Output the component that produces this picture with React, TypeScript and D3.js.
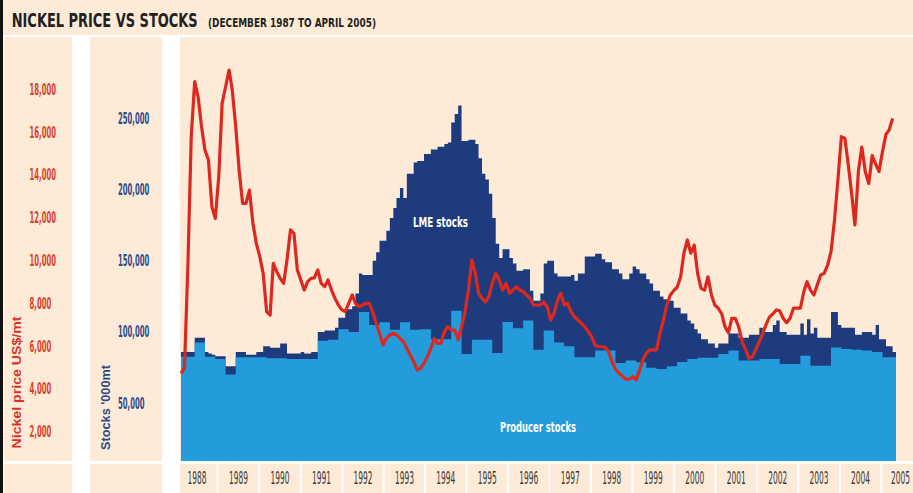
import React from "react";
import * as d3 from "d3";

const W = 913;
const H = 493;

// LME cash nickel price, US$/t, monthly from December 1987
const priceUSD = [
  4730, 4980, 9900, 15790, 18360, 17650, 16250, 15160, 14700, 12510, 11970, 13920, 17350,
  18120, 18900, 17970, 16250, 14230, 12670, 12670, 13290, 11740, 10800, 10180, 9400,
  7610, 7450, 9870, 9480, 9170, 8930, 10020, 11430, 11270, 9560, 9090, 8620,
  9010, 9170, 9190, 9560, 8930, 8780, 9090, 8620, 8230, 7920, 7690, 7610,
  8000, 8390, 8000, 7840, 7920, 8000, 8000, 7610, 7070, 6600, 6050, 6360,
  6520, 6600, 6520, 6360, 6210, 5900, 5580, 5270, 4880, 4960, 5200, 5500,
  5900, 6360, 6130, 6130, 6670, 6910, 6750, 6750, 6290, 6910, 7610, 8620,
  10020, 9400, 8470, 8230, 8070, 8310, 8930, 9400, 9090, 8620, 8930, 8470,
  8620, 8780, 8620, 8540, 8390, 8230, 7920, 7920, 7920, 8070, 7840, 7220,
  7530, 8150, 8470, 7920, 8000, 7610, 7370, 7220, 7070, 6910, 6670, 6440,
  6050, 5970, 5970, 5950, 5740, 5270, 4920, 4730, 4600, 4450, 4450, 4570,
  4420, 4880, 5350, 5660, 5820, 5820, 5820, 6600, 7220, 7920, 8390, 8590,
  8750, 9240, 10340, 10960, 10340, 10720, 9400, 8700, 8620, 9240, 8390, 7920,
  7770, 7500, 6910, 6630, 7300, 7300, 6910, 6210, 5850, 5430, 5500, 5850,
  6210, 6600, 6990, 7350, 7500, 7690, 7650, 7300, 7090, 7300, 7770, 7770,
  7770, 8540, 9010, 8620, 8390, 8860, 9320, 9400, 9790, 10410, 11890, 13760,
  15790, 15710, 14540, 13140, 11660, 14200, 15300, 14150, 13600, 14900, 14500, 14150,
  15100, 15900, 16100, 16640,
];

// LME + producer stocks, '000 t, monthly from December 1987
const totalStocksK = [
  86, 86, 86, 86, 96, 96, 96, 86, 85, 84, 83, 83, 83,
  76, 76, 76, 86, 86, 86, 84, 84, 84, 86, 86, 90,
  90, 89, 89, 89, 92, 92, 85, 85, 85, 85, 86, 85,
  85, 86, 86, 100, 100, 101, 101, 101, 103, 110, 110, 116,
  116, 118, 127, 141, 140, 140, 140, 150, 156, 164, 164, 171,
  180, 187, 194, 201, 194, 211, 211, 219, 220, 220, 225, 225,
  228, 228, 230, 230, 232, 233, 247, 253, 259, 234, 234, 235,
  235, 232, 222, 211, 207, 197, 180, 162, 152, 158, 158, 152,
  148, 143, 143, 144, 144, 129, 122, 122, 127, 148, 150, 150,
  141, 139, 139, 139, 139, 140, 136, 141, 141, 153, 153, 153,
  155, 155, 151, 149, 149, 144, 144, 141, 137, 137, 141, 146,
  144, 141, 141, 137, 134, 129, 129, 125, 123, 123, 122, 117,
  117, 113, 113, 108, 106, 102, 99, 95, 95, 92, 92, 89,
  92, 92, 92, 99, 99, 99, 96, 96, 96, 98, 98, 98,
  103, 100, 100, 100, 105, 108, 100, 100, 98, 98, 98, 98,
  106, 98, 109, 99, 103, 96, 96, 96, 96, 114, 114, 105,
  103, 103, 103, 103, 98, 98, 100, 100, 100, 98, 105, 95,
  95, 90, 90, 86,
];

// producer stocks, '000 t, quarterly from Q4 1987
const producerStocksK = [
  82.7,
  82.7, 92.7, 82.7, 81.1,
  70.1, 82.2, 82.2, 82.2,
  81.5, 81.5, 81, 81,
  81, 93.9, 94.5, 102,
  100, 114, 105, 106.8,
  101.6, 106.8, 101.6, 102,
  95, 95, 115, 84.6,
  94.6, 94.6, 85.3, 107,
  102.6, 108, 87.6, 101,
  92.7, 90, 82.2, 82.2,
  87, 87, 78.3, 80,
  78.7, 75, 74, 76,
  79, 81, 82, 82,
  84.6, 87, 80, 80,
  81, 81, 77.6, 77.6,
  83.4, 76.4, 76.4, 89.2,
  88, 87.5, 87, 86,
  82.2, 82.2,
];

const priceTicks = [2000, 4000, 6000, 8000, 10000, 12000, 14000, 16000, 18000];
const stockTicks = [50000, 100000, 150000, 200000, 250000];
const years = [
  "1988", "1989", "1990", "1991", "1992", "1993", "1994", "1995", "1996",
  "1997", "1998", "1999", "2000", "2001", "2002", "2003", "2004", "2005",
];

const PEACH = "#fdebd8";
const NAVY = "#1e3c7d";
const BLUE = "#249cdc";
const RED = "#dc281e";
const NARROW = "'Liberation Sans Narrow', 'DejaVu Sans Condensed', 'Roboto Condensed', sans-serif";
const WIDE = "'Liberation Sans', Arial, sans-serif";

// rough width of a condensed number label
const labelWidth = (s: string) => s.replace(/,/g, "").length * 4.7 + (s.includes(",") ? 3 : 0);

export default function App() {
  const start = new Date(1987, 11, 1);
  const end = new Date(2005, 4, 1);
  const chartTop = 37;
  const chartBottom = 461;

  const x = d3.scaleTime().domain([start, end]).range([181, 896]);
  const yPrice = d3.scaleLinear().domain([0, 20000]).range([474.5, 46.5]);
  const yStock = d3.scaleLinear().domain([0, 300000]).range([474.5, 47]);

  const totalPts = totalStocksK.map((v, i) => ({ date: d3.timeMonth.offset(start, i), v: v * 1000 }));
  totalPts.push({ date: end, v: totalPts[totalPts.length - 1].v });

  const qStart = new Date(1987, 9, 1);
  const prodPts = producerStocksK.map((v, i) => ({ date: d3.timeMonth.offset(qStart, 3 * i), v: v * 1000 }));
  prodPts.push({ date: d3.timeMonth.offset(qStart, 3 * producerStocksK.length), v: prodPts[prodPts.length - 1].v });

  const stockArea = d3
    .area<{ date: Date; v: number }>()
    .x((d) => x(d.date))
    .y0(chartBottom)
    .y1((d) => yStock(d.v))
    .curve(d3.curveStepAfter);

  const priceLine = d3
    .line<number>()
    .x((_, i) => x(d3.timeMonth.offset(start, i)))
    .y((d) => yPrice(d));

  const yearBand = d3.scaleBand<string>().domain(years).range([176.3, 922.8]);
  const fmt = d3.format(",");

  return (
    <svg
      width={W}
      height={H}
      viewBox={`0 0 ${W} ${H}`}
      style={{ position: "fixed", left: 0, top: 0, background: "#fff" }}
    >
      <defs>
        <clipPath id="plot">
          <rect x={181} y={chartTop} width={896 - 181} height={chartBottom - chartTop} />
        </clipPath>
      </defs>

      {/* panels */}
      <rect x={0} y={0} width={W} height={35} fill={PEACH} />
      <rect x={4} y={chartTop} width={68} height={H - chartTop} fill={PEACH} />
      <rect x={90} y={chartTop} width={72} height={H - chartTop} fill={PEACH} />
      <rect x={180} y={chartTop} width={W - 180} height={chartBottom - chartTop} fill={PEACH} />
      <rect x={0} y={chartBottom} width={W} height={3} fill="#fff" />
      {years.map((yr) => {
        const x0 = Math.max(180, yearBand(yr)! + 1);
        const x1 = yearBand(yr)! + yearBand.bandwidth() - 1;
        return <rect key={yr} x={x0} y={chartBottom + 3} width={x1 - x0} height={H - chartBottom - 3} fill={PEACH} />;
      })}
      <rect x={0} y={0} width={3} height={H} fill="#111" />

      {/* title */}
      <g transform="translate(11.7,27) scale(0.73,1)">
        <text fontFamily={NARROW} fontWeight="bold" fontSize={19.5} fill="#231f20" textLength={186 / 0.73} lengthAdjust="spacingAndGlyphs">
          NICKEL PRICE VS STOCKS
        </text>
      </g>
      <g transform="translate(208,26.7) scale(0.8,1)">
        <text fontFamily={NARROW} fontWeight="bold" fontSize={11.5} fill="#231f20" textLength={168 / 0.8} lengthAdjust="spacingAndGlyphs">
          (DECEMBER 1987 TO APRIL 2005)
        </text>
      </g>

      {/* stocks */}
      <g clipPath="url(#plot)">
        <path d={stockArea(totalPts)!} fill={NAVY} />
        <path d={stockArea(prodPts)!} fill={BLUE} />
      </g>
      <text x={440.5} y={226.7} textAnchor="middle" fontFamily={NARROW} fontWeight="bold" fontSize={14} fill="#fff" textLength={55} lengthAdjust="spacingAndGlyphs">
        LME stocks
      </text>
      <text x={538} y={431.5} textAnchor="middle" fontFamily={NARROW} fontWeight="bold" fontSize={14} fill="#fff" textLength={76} lengthAdjust="spacingAndGlyphs">
        Producer stocks
      </text>

      {/* price */}
      <path d={priceLine(priceUSD)!} fill="none" stroke={RED} strokeWidth={3.2} strokeLinejoin="round" />

      {/* left axis: price */}
      {priceTicks.map((t) => (
        <text
          key={t}
          x={29.5}
          y={yPrice(t) + 5.4}
          fontFamily={NARROW}
          fontWeight="bold"
          fontSize={15}
          fill="#d9402c"
          textLength={labelWidth(fmt(t))}
          lengthAdjust="spacingAndGlyphs"
        >
          {fmt(t)}
        </text>
      ))}
      <text
        transform="translate(21,382.5) rotate(-90)"
        textAnchor="middle"
        fontFamily={WIDE}
        fontWeight="bold"
        fontSize={12.5}
        fill="#d9322a"
        textLength={132}
        lengthAdjust="spacingAndGlyphs"
      >
        Nickel price US$/mt
      </text>

      {/* second axis: stocks */}
      {stockTicks.map((t) => (
        <text
          key={t}
          x={118}
          y={yStock(t) + 5.4}
          fontFamily={NARROW}
          fontWeight="bold"
          fontSize={15}
          fill="#2d4a8a"
          textLength={labelWidth(fmt(t))}
          lengthAdjust="spacingAndGlyphs"
        >
          {fmt(t)}
        </text>
      ))}
      <text
        transform="translate(110,407.5) rotate(-90)"
        textAnchor="middle"
        fontFamily={WIDE}
        fontWeight="bold"
        fontSize={12.5}
        fill="#2d4a8a"
        textLength={85}
        lengthAdjust="spacingAndGlyphs"
      >
        Stocks '000mt
      </text>

      {/* years */}
      {years.map((yr) => (
        <g
          key={yr}
          transform={`translate(${Math.min(900.5, yearBand(yr)! + yearBand.bandwidth() / 2)},484) scale(0.55,1)`}
        >
          <text
            textAnchor="middle"
            fontFamily={NARROW}
            fontSize={17}
            fill="#3a3a3a"
            textLength={19 / 0.55}
            lengthAdjust="spacingAndGlyphs"
          >
            {yr}
          </text>
        </g>
      ))}
    </svg>
  );
}
